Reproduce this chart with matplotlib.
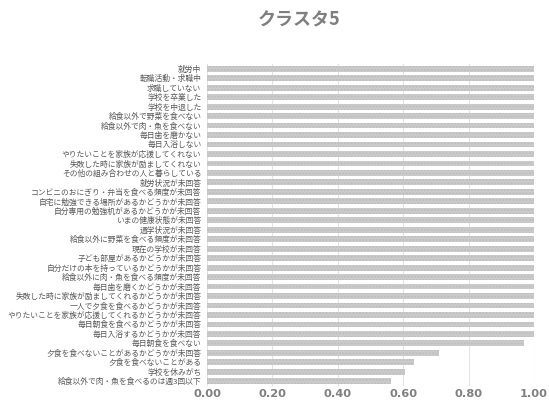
import numpy as np
import matplotlib.pyplot as plt

plt.rcParams['font.family'] = ['Noto Sans CJK JP', 'DejaVu Sans']

# categories from top to bottom
labels = [
    '就労中',
    '転職活動・求職中',
    '求職していない',
    '学校を卒業した',
    '学校を中退した',
    '給食以外で野菜を食べない',
    '給食以外で肉・魚を食べない',
    '毎日歯を磨かない',
    '毎日入浴しない',
    'やりたいことを家族が応援してくれない',
    '失敗した時に家族が励ましてくれない',
    'その他の組み合わせの人と暮らしている',
    '就労状況が未回答',
    'コンビニのおにぎり・弁当を食べる頻度が未回答',
    '自宅に勉強できる場所があるかどうかが未回答',
    '自分専用の勉強机があるかどうかが未回答',
    'いまの健康状態が未回答',
    '通学状況が未回答',
    '給食以外に野菜を食べる頻度が未回答',
    '現在の学校が未回答',
    '子ども部屋があるかどうかが未回答',
    '自分だけの本を持っているかどうかが未回答',
    '給食以外に肉・魚を食べる頻度が未回答',
    '毎日歯を磨くかどうかが未回答',
    '失敗した時に家族が励ましてくれるかどうかが未回答',
    '一人で夕食を食べるかどうかが未回答',
    'やりたいことを家族が応援してくれるかどうかが未回答',
    '毎日朝食を食べるかどうかが未回答',
    '毎日入浴するかどうかが未回答',
    '毎日朝食を食べない',
    '夕食を食べないことがあるかどうかが未回答',
    '夕食を食べないことがある',
    '学校を休みがち',
    '給食以外で肉・魚を食べるのは週3回以下',
]
values = [1.0] * 29 + [0.969, 0.709, 0.632, 0.607, 0.563]

xticks = [0.0, 0.2, 0.4, 0.6, 0.8, 1.0]

fig = plt.figure(figsize=(5.49, 4.05), dpi=100)
ax = fig.add_axes([207 / 549, 1 - 386 / 405, 327 / 549, 322 / 405])

y = np.arange(len(labels))
ax.barh(y, values, height=0.62, color='#cbcbcb', edgecolor='#bdbdbd',
        hatch='.....', linewidth=0)

ax.set_ylim(len(labels) - 0.5, -0.5)
ax.set_xlim(0, 1.0)
ax.set_yticks(y)
ax.set_yticklabels(labels, fontsize=5.6, color='#595959')
ax.set_xticks(xticks)
ax.set_xticklabels(['%.2f' % v for v in xticks], fontsize=8.2,
                   fontweight='bold', color='#7f7f7f', family='DejaVu Sans')
ax.tick_params(length=0, pad=4)
ax.tick_params(axis='x', pad=2)
ax.grid(axis='x', color='#e3e3e3', linewidth=0.8)
ax.set_axisbelow(True)
for s in ax.spines.values():
    s.set_visible(False)

fig.text(0.545, 1 - 20 / 405, 'クラスタ5', ha='center', va='center',
         fontsize=13, fontweight='bold', color='#7f7f7f')

fig.savefig('out.png', dpi=100)
